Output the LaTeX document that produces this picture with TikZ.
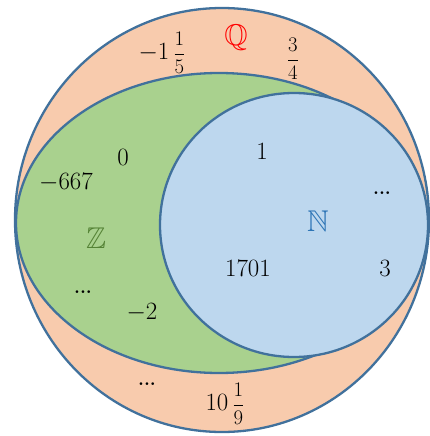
\documentclass[tikz,border=0pt]{standalone}
\usepackage{amsmath,amssymb}
\definecolor{qfill}{HTML}{F8CBAD}
\definecolor{zfill}{HTML}{A9D18E}
\definecolor{nfill}{HTML}{BDD7EE}
\definecolor{edge}{HTML}{41719C}
\definecolor{zcol}{HTML}{548235}
\definecolor{ncol}{HTML}{2E75B6}
\definecolor{qcol}{HTML}{FF0000}
\newcommand{\smallfr}[2]{{\fontsize{22}{25}\selectfont$\dfrac{#1}{#2}$}}
\tikzset{
  setshape/.style={draw=edge, line width=2.3pt},
  num/.style={inner sep=0pt, font=\fontsize{27}{31}\selectfont},
  dots/.style={inner sep=0pt, font=\fontsize{19}{22}\selectfont\bfseries},
  setname/.style={inner sep=0pt, font=\fontsize{30}{34}\selectfont},
}
\begin{document}
\begin{tikzpicture}[x=1pt,y=-1pt]
\useasboundingbox (0,0) rectangle (430,436);
\path[setshape, fill=qfill] (222,220) ellipse [x radius=207, y radius=212];
\path[setshape, fill=zfill] (219,223) ellipse [x radius=203, y radius=150];
\path[setshape, fill=nfill] (294,225) ellipse [x radius=134, y radius=132];

\node[setname, text=qcol] (Q) at (236,38) {$\mathbb{Q}$};
\node[num] (q1) at (162,53) {$-1\,$\smallfr{1}{5}};
\node[num] (q2) at (293,59) {\smallfr{3}{4}};
\node[dots] (q3) at (147,384) {...};
\node[num] (q4) at (225,404) {$10\,$\smallfr{1}{9}};

\node[setname, text=zcol] (Z) at (96,238) {$\mathbb{Z}$};
\node[num] (z1) at (123,157) {$0$};
\node[num] (z2) at (66,183) {$-667$};
\node[dots] (z3) at (83,292) {...};
\node[num] (z4) at (142,313) {$-2$};

\node[setname, text=ncol] (N) at (318,221) {$\mathbb{N}$};
\node[num] (n1) at (262,151) {$1$};
\node[dots] (n2) at (382,193) {...};
\node[num] (n3) at (248,268) {$1701$};
\node[num] (n4) at (385,268) {$3$};
\end{tikzpicture}
\end{document}
